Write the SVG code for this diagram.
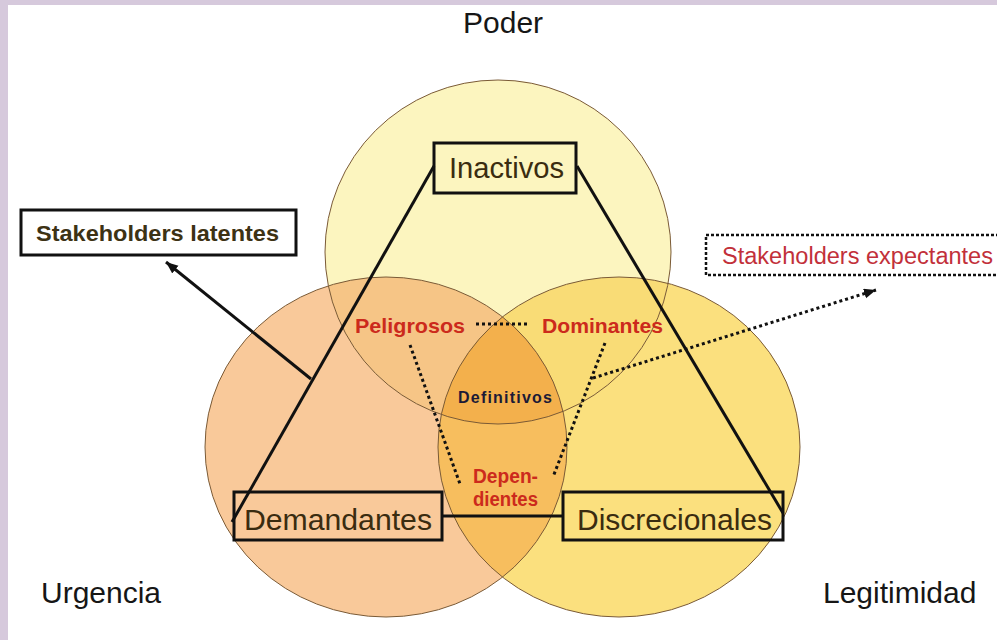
<svg xmlns="http://www.w3.org/2000/svg" width="997" height="640" viewBox="0 0 997 640">
  <style>
    .axis { font-family: "Liberation Sans", Arial, sans-serif; font-size: 30px; fill: #161616; }
    .box { fill: none; stroke: #111; stroke-width: 3; }
    .boxlbl { font-family: "Liberation Sans", Arial, sans-serif; font-size: 30px; fill: #3a2c10; }
    .red { font-family: "Liberation Sans", Arial, sans-serif; font-weight: bold; fill: #cc2a1c; }
    .outline { fill: none; stroke: #7a5a36; stroke-width: 1; }
    .solid { stroke: #111; stroke-width: 3; fill: none; }
    .dotted { stroke: #111; stroke-width: 3; fill: none; stroke-dasharray: 3 3; }
  </style>
  <defs>
    <marker id="arrow" markerUnits="userSpaceOnUse" markerWidth="14" markerHeight="12" refX="12" refY="5" orient="auto">
      <path d="M0,0 L12,5 L0,10 z" fill="#111"/>
    </marker>
    <clipPath id="cTop"><ellipse cx="498" cy="252" rx="173" ry="172"/></clipPath>
    <clipPath id="cLeft"><ellipse cx="386" cy="447" rx="181" ry="170"/></clipPath>
    <clipPath id="cRight"><ellipse cx="619" cy="447" rx="181" ry="170"/></clipPath>
  </defs>

  <!-- background -->
  <rect x="0" y="0" width="997" height="640" fill="#d6c9dc"/>
  <rect x="8" y="5" width="989" height="635" fill="#ffffff"/>

  <!-- Venn circles -->
  <g id="venn">
    <ellipse cx="386" cy="447" rx="181" ry="170" fill="#f9c99a"/>
    <ellipse cx="619" cy="447" rx="181" ry="170" fill="#fbe07e"/>
    <ellipse cx="498" cy="252" rx="173" ry="172" fill="#fcf5bf"/>
    <g clip-path="url(#cTop)">
      <ellipse cx="386" cy="447" rx="181" ry="170" fill="#f6c586"/>
      <ellipse cx="619" cy="447" rx="181" ry="170" fill="#f9dc76"/>
    </g>
    <g clip-path="url(#cLeft)">
      <ellipse cx="619" cy="447" rx="181" ry="170" fill="#f7be5e"/>
    </g>
    <g clip-path="url(#cTop)">
      <g clip-path="url(#cLeft)">
        <ellipse cx="619" cy="447" rx="181" ry="170" fill="#f3b04c"/>
      </g>
    </g>
    <ellipse class="outline" cx="386" cy="447" rx="181" ry="170"/>
    <ellipse class="outline" cx="619" cy="447" rx="181" ry="170"/>
    <ellipse class="outline" cx="498" cy="252" rx="173" ry="172"/>
  </g>

  <!-- axis labels -->
  <g id="poder"><text class="axis" x="463" y="33">Poder</text></g>
  <g id="urgencia"><text class="axis" x="41" y="603">Urgencia</text></g>
  <g id="legitimidad"><text class="axis" x="823" y="603">Legitimidad</text></g>

  <!-- connectors -->
  <g id="connectors">
    <line class="solid" x1="434" y1="166" x2="232" y2="522"/>
    <line class="solid" x1="577" y1="166" x2="783" y2="513"/>
    <line class="solid" x1="442" y1="516" x2="563" y2="516"/>
    <line class="solid" x1="311" y1="379" x2="166" y2="262" marker-end="url(#arrow)"/>
    <line class="dotted" x1="593" y1="378" x2="876" y2="290" marker-end="url(#arrow)"/>
    <line class="dotted" x1="476" y1="324" x2="527" y2="324"/>
    <line class="dotted" x1="410" y1="345" x2="460" y2="484"/>
    <line class="dotted" x1="605" y1="343" x2="553" y2="477"/>
  </g>

  <!-- nodes -->
  <g id="inactivos">
    <rect class="box" x="434" y="143" width="142" height="50"/>
    <text class="boxlbl" x="449" y="178" textLength="115" lengthAdjust="spacingAndGlyphs">Inactivos</text>
  </g>
  <g id="demandantes">
    <rect class="box" x="234" y="492" width="208" height="48"/>
    <text class="boxlbl" x="244" y="530" textLength="188" lengthAdjust="spacingAndGlyphs">Demandantes</text>
  </g>
  <g id="discrecionales">
    <rect class="box" x="563" y="492" width="220" height="48"/>
    <text class="boxlbl" x="577" y="530" textLength="195" lengthAdjust="spacingAndGlyphs">Discrecionales</text>
  </g>
  <g id="peligrosos">
    <text class="red" x="355" y="333" font-size="21" textLength="110" lengthAdjust="spacingAndGlyphs">Peligrosos</text>
  </g>
  <g id="dominantes">
    <text class="red" x="542" y="333" font-size="21" textLength="121" lengthAdjust="spacingAndGlyphs">Dominantes</text>
  </g>
  <g id="definitivos">
    <text x="458" y="403" font-family="Liberation Sans, Arial, sans-serif" font-weight="bold" font-size="16" fill="#1c1a36" textLength="94" lengthAdjust="spacing">Definitivos</text>
  </g>
  <g id="dependientes">
    <text class="red" x="473" y="483" font-size="20" textLength="65" lengthAdjust="spacingAndGlyphs">Depen-</text>
    <text class="red" x="473" y="506" font-size="20" textLength="65" lengthAdjust="spacingAndGlyphs">dientes</text>
  </g>
  <g id="latentes">
    <rect x="21" y="210" width="275" height="45" fill="#ffffff" stroke="#111" stroke-width="3"/>
    <text x="36" y="241" font-family="Liberation Sans, Arial, sans-serif" font-weight="bold" font-size="22" fill="#3d3214" textLength="243" lengthAdjust="spacingAndGlyphs">Stakeholders latentes</text>
  </g>
  <g id="expectantes">
    <rect x="706" y="235" width="310" height="40" fill="#ffffff" stroke="#111" stroke-width="2.5" stroke-dasharray="3 2"/>
    <text x="722" y="264" font-family="Liberation Sans, Arial, sans-serif" font-size="23" fill="#c2303a" textLength="271" lengthAdjust="spacingAndGlyphs">Stakeholders expectantes</text>
  </g>
</svg>
